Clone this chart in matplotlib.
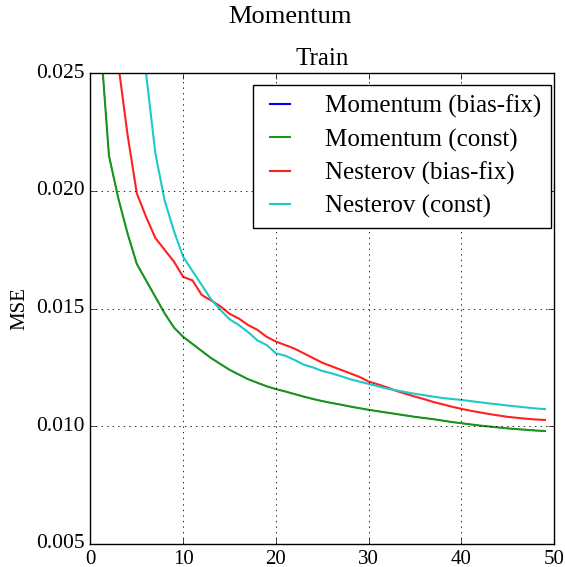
import numpy as np
import matplotlib
matplotlib.use("Agg")
import matplotlib.pyplot as plt

# ---------------------------------------------------
# DATA
# ---------------------------------------------------

epochs = list(range(1, 50))

momentum_const = [
    0.0268, 0.0215, 0.0197, 0.0182, 0.0169, 0.0162, 0.0155, 0.0148, 0.0142, 0.0138,
    0.0135, 0.0132, 0.0129, 0.01265, 0.0124, 0.0122, 0.0120, 0.01185, 0.0117, 0.01158,
    0.01148, 0.01137, 0.01126, 0.01116, 0.01107, 0.01099, 0.01092, 0.01084, 0.01077, 0.0107,
    0.01064, 0.01058, 0.01052, 0.01046, 0.0104, 0.01035, 0.0103, 0.01024, 0.01018, 0.01013,
    0.01008, 0.01003, 0.00999, 0.00995, 0.00991, 0.00988, 0.00985, 0.00982, 0.0098,
]

# bias-fix momentum coincides with the constant one, hidden under the green line
momentum_biasfix = list(momentum_const)

nesterov_biasfix = [
    0.0340, 0.0295, 0.0254, 0.0224, 0.0199, 0.0189, 0.0180, 0.0175, 0.0170, 0.01635,
    0.0162, 0.01558, 0.01535, 0.0151, 0.01478, 0.01458, 0.0143, 0.0141, 0.0138, 0.0136,
    0.01345, 0.0133, 0.0131, 0.0129, 0.0127, 0.01255, 0.0124, 0.01225, 0.0121, 0.0119,
    0.01178, 0.01165, 0.0115, 0.01138, 0.01126, 0.01115, 0.01103, 0.01093, 0.01083, 0.01074,
    0.01066, 0.01059, 0.01052, 0.01046, 0.0104, 0.01036, 0.01032, 0.01029, 0.01027,
]

nesterov_const = [
    0.0400, 0.0370, 0.0340, 0.0315, 0.0290, 0.0250, 0.0216, 0.0196, 0.0183, 0.0172,
    0.0166, 0.0160, 0.0154, 0.01495, 0.01455, 0.0143, 0.0140, 0.01365, 0.01345, 0.0131,
    0.0130, 0.01282, 0.01262, 0.0125, 0.01235, 0.01225, 0.01213, 0.0120, 0.0119, 0.0118,
    0.0117, 0.0116, 0.01152, 0.01145, 0.01138, 0.01132, 0.01126, 0.0112, 0.01116, 0.01112,
    0.01107, 0.01102, 0.01097, 0.01093, 0.01088, 0.01084, 0.0108, 0.01076, 0.01073,
]

series_labels = ["Momentum (bias-fix)", "Momentum (const)",
                 "Nesterov (bias-fix)", "Nesterov (const)"]
series_colors = ["#0000ff", "#1a961a", "#ff2020", "#20c8c8"]

x_ticks = [0, 10, 20, 30, 40, 50]
y_ticks = [0.005, 0.010, 0.015, 0.020, 0.025]

# ---------------------------------------------------
# PLOT
# ---------------------------------------------------

plt.style.use("classic")
plt.rcParams["font.family"] = ["Liberation Serif", "DejaVu Serif"]

fig = plt.figure(figsize=(5.65, 5.67), dpi=100)
fig.patch.set_facecolor("white")
ax = fig.add_axes([0.16, 0.0406, 0.821, 0.8302])

all_series = [momentum_biasfix, momentum_const, nesterov_biasfix, nesterov_const]
widths = [0.8, 1.5, 1.5, 1.5]
for values, label, color, lw in zip(all_series, series_labels, series_colors, widths):
    line, = ax.plot(epochs, values, color=color, lw=lw, label=label)
    if lw < 1.5:
        line.set_zorder(1)

ax.set_xlim(0, 50)
ax.set_ylim(0.005, 0.025)
ax.set_xticks(x_ticks)
ax.set_yticks(y_ticks)
ax.set_yticklabels(["%.3f" % v for v in y_ticks])
ax.tick_params(axis="y", labelsize=15.5)
ax.tick_params(axis="x", labelsize=15)
ax.grid(True, color="k", linestyle=":", linewidth=0.6)

ax.set_ylabel("MSE", fontsize=15)
ax.set_title("Train", fontsize=18, pad=6)
fig.suptitle("Momentum", fontsize=19, x=0.513, y=0.99)

leg = ax.legend(loc="upper right", bbox_to_anchor=(0.9936, 0.975), fontsize=18,
                borderaxespad=0, handlelength=1.4, handletextpad=1.1,
                labelspacing=0.4)
for h in leg.get_lines():
    h.set_linewidth(1.5)

fig.savefig("out.png", dpi=100, facecolor="white")
